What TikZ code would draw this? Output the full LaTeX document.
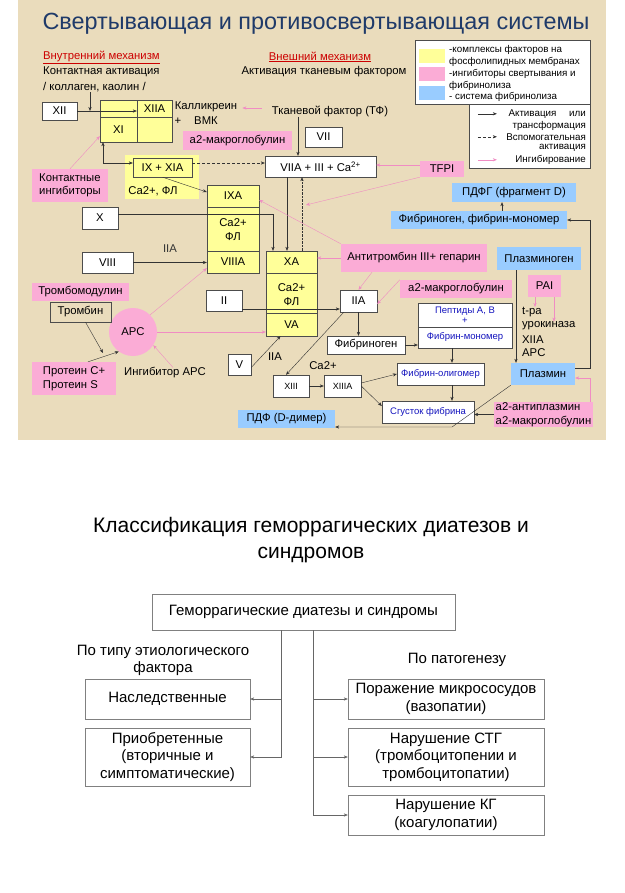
\documentclass[tikz,border=0pt]{standalone}
\usepackage{fontspec}
\setmainfont{Liberation Sans}
\usepackage{xcolor}
\usetikzlibrary{positioning,arrows.meta}
\definecolor{parch}{RGB}{234,220,188}
\definecolor{ylw}{RGB}{255,255,153}
\definecolor{pnk}{RGB}{251,172,214}
\definecolor{blu}{RGB}{153,204,255}
\definecolor{ttl}{RGB}{31,58,105}
\definecolor{hdr}{RGB}{204,0,0}
\definecolor{fbn}{RGB}{20,20,190}
\definecolor{inhl}{RGB}{240,140,195}

\begin{document}
\begin{tikzpicture}[
  x=1pt, y=-1pt,
  >={Stealth[length=4pt,width=3.2pt]},
  wh/.style 2 args={minimum width=#1, minimum height=#2},
  tx/.style={inner sep=0pt, font=\fontsize{11.3}{13.5}\selectfont},
  lgd/.style={inner sep=0pt, anchor=west, font=\fontsize{9.8}{11}\selectfont},
  wbox/.style={rectangle, draw=gray!60!black, fill=white, inner sep=0pt, font=\fontsize{11.3}{13.5}\selectfont},
  ybox/.style={rectangle, draw=gray!60!black, fill=ylw, inner sep=0pt, align=center, font=\fontsize{11.3}{14}\selectfont},
  pbox/.style={rectangle, fill=pnk, inner sep=0pt, align=left, font=\fontsize{11.3}{13.5}\selectfont},
  bbox/.style={rectangle, fill=blu, inner sep=0pt, font=\fontsize{11.3}{13.5}\selectfont},
  fbox/.style={rectangle, draw=gray!60!black, fill=white, inner sep=0pt, text=fbn, font=\fontsize{9.5}{11}\selectfont},
  act/.style={->, black!80},
  aux/.style={->, black!80, densely dashed},
  inh/.style={->, inhl},
  gbox/.style={rectangle, draw=gray, fill=white, inner sep=0pt, align=center, font=\fontsize{15}{17.5}\selectfont},
  gline/.style={->, black!60}
]
\useasboundingbox (0,0) rectangle (624,893);
\fill[parch] (18,0) rectangle (606,440);

% title and headers
\node[inner sep=0pt, text=ttl, font=\fontsize{23.4}{28}\selectfont] (title) at (316,24) {Свертывающая и противосвертывающая системы};
\node[tx, anchor=west, text=hdr] (inmech) at (43,57) {\underline{Внутренний механизм}};
\node[tx, anchor=west] (contact) at (43,72) {Контактная активация};
\node[tx, anchor=west] (collag) at (43,87) {/ коллаген, каолин /};
\node[tx, text=hdr] (exmech) at (320,57) {\underline{Внешний механизм}};
\node[tx] (tfact) at (324,72) {Активация тканевым фактором};

% legend
\node[wbox, wh={121}{64}] (leg2) at (529.5,136) {};
\node[wbox, wh={175}{64}] (leg1) at (502.5,72) {};
\node[rectangle, fill=ylw, wh={26}{14}, inner sep=0pt] (sy) at (432,56) {};
\node[rectangle, fill=pnk, wh={26}{14}, inner sep=0pt] (sp) at (432,74) {};
\node[rectangle, fill=blu, wh={26}{14}, inner sep=0pt] (sb) at (432,93) {};
\node[lgd] (l1) at (449,50) {-комплексы факторов на};
\node[lgd] (l2) at (449,62) {фосфолипидных мембранах};
\node[lgd] (l3) at (449,74) {-ингибиторы свертывания и};
\node[lgd] (l4) at (449,86) {фибринолиза};
\node[lgd] (l5) at (449,97) {- система фибринолиза};
\node[lgd, anchor=east] (l6) at (586,114) {Активация\hspace{1.3em}или};
\node[lgd, anchor=east] (l7) at (586,126) {трансформация};
\node[lgd, anchor=east] (l8) at (586,137) {Вспомогательная};
\node[lgd, anchor=east] (l9) at (586,148) {активация};
\node[lgd, anchor=east] (l10) at (586,160) {Ингибирование};
\draw[act] ([shift={(9,10)}]leg2.north west) -- ++(19,0);
\draw[aux] ([shift={(9,33)}]leg2.north west) -- ++(19,0);
\draw[inh] ([shift={(9,56)}]leg2.north west) -- ++(19,0);

% intrinsic pathway
\node[wbox, wh={35}{18}] (xii) at (59.5,111) {XII};
\node[ybox, wh={72}{42}] (xicx) at (136,121) {};
\node[ybox, wh={35}{17}] (xiia) at (154.5,108.5) {XIIA};
\node[ybox, wh={37}{25}] (xi) at (118.5,129.5) {XI};
\draw[act] (xii.east) -- (xii.east -| xiia.west);
\draw[act] (collag.south -| 90,0) -- (xii.east -| 90,0);
\node[tx] (kalli) at (206,107) {Калликреин};
\node[tx] (plus1) at (178,121) {+};
\node[tx] (vmk) at (206,121) {ВМК};
\coordinate (kin) at (262,108);
\draw[inh, shorten >=5pt] (kin) -- (kin -| kalli.east);

% extrinsic pathway
\node[tx] (tf) at (330,111) {Тканевой фактор (ТФ)};
\node[wbox, wh={37}{20}] (vii) at (323.5,137) {VII};
\node[pbox, wh={109}{19}, align=center] (a2ma) at (237.5,140.5) {а2-макроглобулин};
\node[wbox, wh={111}{21}] (viia) at (320.5,166.5) {VIIA + III + Ca\textsuperscript{2+}};
\draw[act] (tf.south -| 298,0) -- (viia.north -| 298,0);

\node[ybox, draw=none, wh={74}{44}] (ixcx) at (162,177) {};
\node[ybox, wh={59}{19}] (ixxia) at (162.5,167.5) {IX + XIA};
\node[tx] (ixca) at (153,191) {Ca2+, ФЛ};
\draw[<->, black!80] (xi.south -| 103,0) |- (ixxia.west |- 0,163);
\draw[aux] (ixxia.east |- 0,163) -- (viia.west |- 0,163);
\node[pbox, wh={76}{33}] (kinh) at (70,185.5) {Контактные\\ингибиторы};
\draw[inh] (kinh.north) -- ([yshift=6pt]xi.south west);

\node[ybox, wh={52}{88}] (ixacx) at (233,229) {};
\node[ybox, wh={52}{22}] (ixa) at (233,196) {IXA};
\node[ybox, wh={52}{22}] (viiia) at (233,262) {VIIIA};
\draw[act] (ixxia.south) -- ([yshift=4pt]ixa.west);
\node[wbox, wh={36}{22}] (xb) at (100,218) {X};
\node[wbox, wh={51}{21}] (viii) at (107.5,262.5) {VIII};
\draw[act] (viii.east) -- (viii.east -| viiia.west) node[tx, midway, yshift=14pt] {IIA};

\node[ybox, wh={51}{85}] (xacx) at (291.5,293.5) {};
\node[ybox, wh={51}{22}] (xa) at (291.5,262) {XA};
\node[ybox, wh={51}{23}] (va) at (291.5,324.5) {VA};
\node[tx, align=center, font=\fontsize{11.3}{14}\selectfont] (xaca) at (291.5,295) {Ca2+\\ФЛ};
\draw[act] (xb.east |- 0,214) -| (273,0 |- xa.north);
\node[tx, align=center, fill=ylw, inner sep=1pt, font=\fontsize{11.3}{14}\selectfont] (ixaca) at (233,230) {Ca2+\\ФЛ};
\draw[act] (viia.south -| 287,0) -- (xa.north -| 287,0);
\draw[->, black!80, densely dotted] (xa.north -| 302,0) -- (viia.south -| 302,0);

\node[pbox, wh={44}{16}, align=center] (tfpi) at (442,169) {TFPI};
\draw[inh] (tfpi.west |- 0,165) -- (viia.east |- 0,165);
\coordinate (tfpiT) at (306,205);
\draw[inh] (tfpi.south west) -- (tfpiT);

% fibrinolysis
\node[bbox, wh={124}{19}] (pdfg) at (514,192.5) {ПДФГ (фрагмент D)};
\node[bbox, wh={176}{18}] (fm) at (479,220) {Фибриноген, фибрин-мономер};
\draw[act] (fm.north -| 502,0) -- (pdfg.south -| 502,0);
\node[pbox, wh={146}{28}, align=center] (at) at (414,258) {Антитромбин III+ гепарин};
\node[bbox, wh={84}{23}] (plg) at (539,258.5) {Плазминоген};
\draw[inh] (at.north west) -- ([yshift=-4pt]ixa.east);
\draw[inh] (at.west) -- (at.west -| xa.east);

% thrombin
\node[wbox, wh={36}{21}] (ii) at (224,300.5) {II};
\node[wbox, wh={37}{22}] (iia) at (358.5,301) {IIA};
\draw[act] (ii.east |- 0,309) -- (iia.west |- 0,309);
\draw[inh] (at.south -| 372,0) -- (iia.north);
\node[pbox, wh={112}{18}, align=center] (a2mb) at (456,289) {а2-макроглобулин};
\draw[inh] (a2mb.north west) -- ([yshift=-3pt]iia.east);

\node[pbox, wh={33}{22}, align=center] (pai) at (544.5,286) {PAI};
\node[tx, anchor=west] (tpa) at (522,312) {t-pa};
\node[tx, anchor=west] (urok) at (522,326) {урокиназа};
\node[tx, anchor=west] (xiiab) at (522,340) {XIIA};
\node[tx, anchor=west] (apcb) at (522,353) {APC};
\draw[inh] (pai.south -| 535,0) -- (tpa.north -| 535,0);
\draw[inh] (pai.south -| 554,0) -- (urok.north -| 554,0);
\node[bbox, wh={64}{22}] (plm) at (543,374) {Плазмин};
\draw[act] (plg.south -| 516,0) -- (plm.north -| 516,0);
\draw[act] ([yshift=6pt]plm.east) -| (fm.east -| 590,0) -- (fm.east);
\node[pbox, wh={99}{25}] (a2ap) at (543.5,414.5) {а2-антиплазмин\\а2-макроглобулин};
\draw[inh] (a2ap.north -| 590,0) |- ([yshift=-4pt]plm.east);

% fibrin
\node[wbox, wh={78}{18}] (fg) at (366,345) {Фибриноген};
\node[fbox, wh={94}{45}] (pep) at (465,325.5) {};
\draw[gray!60!black] (pep.west |- 0,327) -- (pep.east |- 0,327);
\node[tx, text=fbn, font=\fontsize{9.5}{11}\selectfont] (pepa) at (465,311) {Пептиды А, В};
\node[tx, text=fbn, font=\fontsize{9.5}{11}\selectfont] (pepp) at (465,321) {+};
\node[tx, text=fbn, font=\fontsize{9.5}{11}\selectfont] (pepm) at (465,337) {Фибрин-мономер};
\node[fbox, wh={87}{22}] (olig) at (440.5,374) {Фибрин-олигомер};
\node[fbox, wh={92}{22}] (clot) at (428,412) {Сгусток фибрина};
\draw[act] (iia.south) -- (iia.south |- fg.north);
\draw[act] (fg.east) -- (fg.east -| pep.west);
\draw[act] (pep.south -| 452,0) -- (olig.north -| 452,0);
\draw[act] (olig.south -| 452,0) -- (clot.north -| 452,0);
\node[wbox, wh={36}{22}, font=\fontsize{9}{10}\selectfont] (xiii) at (291,386) {XIII};
\node[wbox, wh={37}{22}, font=\fontsize{9}{10}\selectfont] (xiiia) at (342.5,386) {XIIIA};
\node[tx] (ca13) at (323,366) {Ca2+};
\draw[act] (xiii.east) -- (xiiia.west);
\draw[act] ([yshift=3pt]xiiia.east) -- (olig.west);
\draw[act] (xiiia.east) -- ([yshift=6pt]clot.west);
\draw[act] ([xshift=4pt]iia.south west) -- ([xshift=-5pt]xiii.north);
\node[bbox, wh={97}{18}] (pdfd) at (286.5,419) {ПДФ (D-димер)};
\draw[act] (plm.south west) -- (452,427) -- (pdfd.east |- 0,427);
\draw[act] (a2ap.west) -- (a2ap.west -| clot.east);

% protein C
\node[circle, fill=pnk, minimum size=48, inner sep=0pt, font=\fontsize{11.3}{13.5}\selectfont] (apc) at (133,332) {APC};
\node[pbox, wh={97}{18}, align=center] (tmod) at (80.5,292) {Тромбомодулин};
\node[rectangle, draw=gray!60!black, wh={61}{20}, inner sep=0pt, font=\fontsize{11.3}{13.5}\selectfont] (thr) at (80.5,312) {Тромбин};
\node[pbox, wh={84}{33}] (prot) at (74,378.5) {Протеин C+\\Протеин S};
\node[tx] (inhapc) at (165,373) {Ингибитор APC};
\coordinate (pcj) at (103,353);
\draw[act] ([xshift=5pt]thr.south) -- (pcj);
\draw[act] ([xshift=14pt]prot.north) -- (apc.234);
\draw[inh] ([xshift=8pt]inhapc.north) -- (apc.327);
\draw[inh] (apc.north east) -- ([yshift=5pt]viiia.south west);
\draw[inh] (apc.east) -- (apc.east -| va.west);
\node[wbox, wh={23}{21}] (v) at (239.5,364.5) {V};
\draw[act] ([yshift=-3pt]v.east) -- ([xshift=-11pt]va.south);
\node[tx] (iiav) at (275,357) {IIA};

% classification
\node[inner sep=0pt, align=center, font=\fontsize{21}{25.5}\selectfont] (gtitle) at (311,540) {Классификация геморрагических диатезов и\\синдромов};
\node[gbox, wh={303}{36}] (gmain) at (303.5,612) {Геморрагические диатезы и синдромы};
\node[inner sep=0pt, align=center, font=\fontsize{15}{17}\selectfont] (etio) at (163,660) {По типу этиологического\\фактора};
\node[inner sep=0pt, font=\fontsize{15}{17}\selectfont] (patho) at (457,660) {По патогенезу};
\node[gbox, wh={165}{40}] (nasl) at (167.5,699) {Наследственные};
\node[gbox, wh={165}{58}] (prio) at (167.5,757) {Приобретенные\\(вторичные и\\симптоматические)};
\node[gbox, wh={196}{40}] (porm) at (446,699) {Поражение микрососудов\\(вазопатии)};
\node[gbox, wh={196}{58}] (stg) at (446,757) {Нарушение СТГ\\(тромбоцитопении и\\тромбоцитопатии)};
\node[gbox, wh={196}{40}] (kg) at (446,815) {Нарушение КГ\\(коагулопатии)};
\draw[gline] (gmain.south -| 281,0) |- (nasl.east);
\draw[gline] (gmain.south -| 281,0) |- (prio.east);
\draw[gline] (gmain.south -| 313,0) |- (porm.west);
\draw[gline] (gmain.south -| 313,0) |- (stg.west);
\draw[gline] (gmain.south -| 313,0) |- (kg.west);
\end{tikzpicture}
\end{document}
